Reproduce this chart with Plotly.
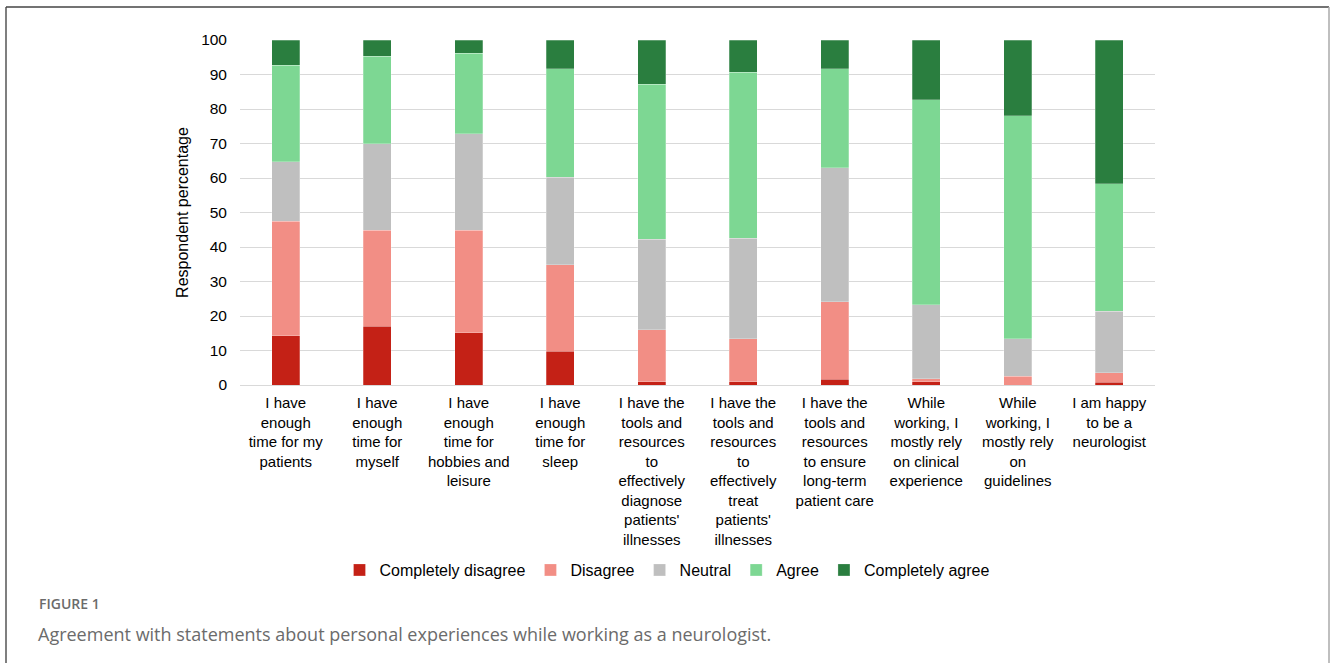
import plotly.graph_objects as go

categories = [
    "I have<br>enough<br>time for my<br>patients",
    "I have<br>enough<br>time for<br>myself",
    "I have<br>enough<br>time for<br>hobbies and<br>leisure",
    "I have<br>enough<br>time for<br>sleep",
    "I have the<br>tools and<br>resources<br>to<br>effectively<br>diagnose<br>patients'<br>illnesses",
    "I have the<br>tools and<br>resources<br>to<br>effectively<br>treat<br>patients'<br>illnesses",
    "I have the<br>tools and<br>resources<br>to ensure<br>long-term<br>patient care",
    "While<br>working, I<br>mostly rely<br>on clinical<br>experience",
    "While<br>working, I<br>mostly rely<br>on<br>guidelines",
    "I am happy<br>to be a<br>neurologist",
]

completely_disagree = [14.3, 17.0, 15.2, 9.8, 1.0, 0.9, 1.7, 0.9, 0.0, 0.8]
disagree = [33.2, 27.9, 29.7, 25.1, 15.0, 12.5, 22.5, 0.9, 2.6, 2.7]
neutral = [17.2, 25.1, 27.9, 25.3, 26.2, 29.2, 38.8, 21.4, 10.8, 17.9]
agree = [28.0, 25.3, 23.4, 31.5, 45.0, 48.1, 28.7, 59.5, 64.6, 37.0]
completely_agree = [7.3, 4.7, 3.8, 8.3, 12.8, 9.3, 8.3, 17.3, 22.0, 41.6]

series_names = ["Completely disagree", "Disagree", "Neutral", "Agree", "Completely agree"]
series_values = [completely_disagree, disagree, neutral, agree, completely_agree]
colors = ["#C42116", "#F28E85", "#BFBFBF", "#7DD793", "#2A7E3F"]

y_ticks = list(range(0, 101, 10))

W, H = 1330, 663
L, R, T, B = 240, 175, 40, 278
pw, ph = W - L - R, H - T - B


def px_x(x):
    return (x - L) / pw


def px_y(y):
    return (H - B - y) / ph


FONT = "Liberation Sans, Arial, sans-serif"

fig = go.Figure()
for name, vals, col in zip(series_names, series_values, colors):
    fig.add_trace(go.Bar(
        x=categories, y=vals, name=name,
        marker=dict(color=col, line=dict(color="rgba(255,255,255,0.5)", width=0.5)),
    ))

fig.update_layout(
    width=W, height=H,
    margin=dict(l=L, r=R, t=T, b=B),
    barmode="stack",
    bargap=0.69,
    plot_bgcolor="white",
    paper_bgcolor="white",
    font=dict(family=FONT, size=16, color="#000000"),
    xaxis=dict(
        tickfont=dict(family=FONT, size=15, color="#000000"),
        showgrid=False,
        showline=True, linecolor="#D9D9D9",
        ticklabelstandoff=4,
    ),
    yaxis=dict(
        range=[0, 100],
        tickvals=y_ticks,
        tickfont=dict(family=FONT, size=15.5, color="#000000"),
        gridcolor="#D9D9D9",
        zeroline=False,
        showline=False,
        ticklabelstandoff=12,
        title=dict(text="Respondent percentage", font=dict(family=FONT, size=16, color="#000000"), standoff=8),
    ),
    legend=dict(
        orientation="h",
        x=px_x(667), xanchor="center",
        y=px_y(570), yanchor="middle",
        font=dict(family=FONT, size=16, color="#000000"),
        bgcolor="rgba(0,0,0,0)",
        traceorder="normal",
        itemwidth=30,
    ),
    showlegend=True,
)

fig.add_annotation(
    text="FIGURE 1", xref="paper", yref="paper",
    x=px_x(37), y=px_y(603), xanchor="left", yanchor="middle",
    showarrow=False, font=dict(family="Open Sans, Noto Sans, sans-serif", size=14, color="#6B6B6B", weight=600),
)
fig.add_annotation(
    text="Agreement with statements about personal experiences while working as a neurologist.",
    xref="paper", yref="paper",
    x=px_x(36), y=px_y(634), xanchor="left", yanchor="middle",
    showarrow=False, font=dict(family="Open Sans, Noto Sans, sans-serif", size=18, color="#6B6B6B"),
)

# figure frame
fig.add_shape(type="line", xref="paper", yref="paper",
              x0=px_x(6), x1=px_x(6), y0=px_y(7), y1=px_y(680),
              line=dict(color="#555555", width=1.5))
fig.add_shape(type="line", xref="paper", yref="paper",
              x0=px_x(6), x1=px_x(1329), y0=px_y(7), y1=px_y(7),
              line=dict(color="#444444", width=1.5))
fig.add_shape(type="line", xref="paper", yref="paper",
              x0=px_x(1329), x1=px_x(1329), y0=px_y(7), y1=px_y(680),
              line=dict(color="#AAAAAA", width=1.5))

fig.write_html("out.html")
